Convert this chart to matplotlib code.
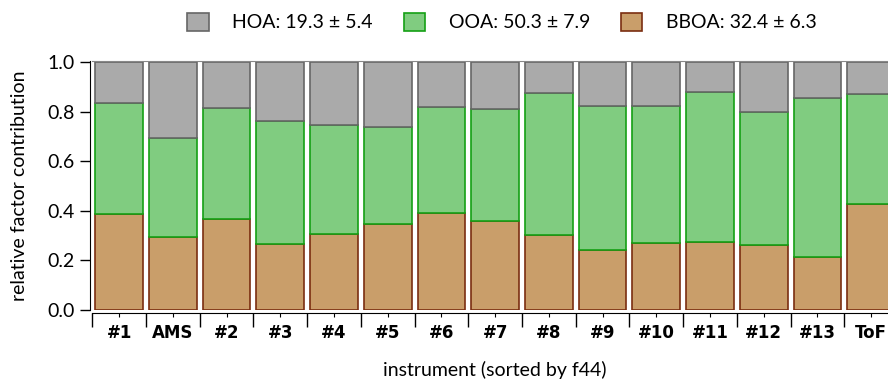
import numpy as np
import matplotlib
matplotlib.use('Agg')
import matplotlib.pyplot as plt
from matplotlib.patches import Patch

plt.rcParams['font.family'] = ['Lato', 'DejaVu Sans']

instruments = ['#1', 'AMS', '#2', '#3', '#4', '#5', '#6', '#7', '#8', '#9',
               '#10', '#11', '#12', '#13', 'ToF']
bboa = np.array([0.387, 0.296, 0.367, 0.265, 0.305, 0.347, 0.392, 0.358,
                 0.304, 0.243, 0.270, 0.274, 0.263, 0.212, 0.429])
ooa_top = np.array([0.837, 0.696, 0.816, 0.763, 0.745, 0.738, 0.821, 0.813,
                    0.875, 0.825, 0.824, 0.879, 0.800, 0.855, 0.871])
ooa = ooa_top - bboa
hoa = 1.0 - ooa_top

legend_labels = ['HOA: 19.3 \u00b1 5.4', 'OOA: 50.3 \u00b1 7.9', 'BBOA: 32.4 \u00b1 6.3']

c_hoa, e_hoa = '#aaaaaa', '#666666'
c_ooa, e_ooa = '#80cc80', '#14a014'
c_bboa, e_bboa = '#c99e6a', '#7a2e10'

fig = plt.figure(figsize=(8.88, 3.8), dpi=100)
ax = fig.add_axes([92.3 / 888, 70 / 380, 805.7 / 888, 249 / 380])

x = np.arange(len(instruments))
w = 0.89
ax.bar(x, bboa, w, color=c_bboa, edgecolor=e_bboa, linewidth=1.2)
ax.bar(x, ooa, w, bottom=bboa, color=c_ooa, edgecolor=e_ooa, linewidth=1.2)
ax.bar(x, hoa, w, bottom=ooa_top, color=c_hoa, edgecolor=e_hoa, linewidth=1.2)

ax.set_xlim(-0.5, len(instruments) - 0.5)
ax.set_ylim(0, 1.005)

# boundaries as major ticks, short minor ticks at bar centres
ax.set_xticks(np.arange(len(instruments) + 1) - 0.5)
ax.set_xticks(x, minor=True)
ax.tick_params(axis='x', which='both', labelbottom=False, direction='out')
ax.tick_params(axis='x', which='major', length=10, width=1)
ax.tick_params(axis='x', which='minor', length=3, width=0.8)
ax.tick_params(axis='y', length=7, width=1, direction='out', labelsize=14)

# bold category names under each bar (only DejaVu has a bold face here)
trans = ax.get_xaxis_transform()
for xi, name in zip(x, instruments):
    ax.text(xi, -0.093, name, transform=trans, ha='center', va='center',
            fontsize=12, fontweight='bold', family='DejaVu Sans',
            clip_on=False)

ax.set_yticks(np.arange(0, 1.01, 0.2))
ax.set_yticklabels([f'{v:.1f}' for v in np.arange(0, 1.01, 0.2)])

ax.spines['right'].set_visible(False)
ax.spines['top'].set_color('#888888')
ax.spines['bottom'].set_position(('outward', 2))
ax.spines['left'].set_position(('outward', 2))

ax.set_ylabel('relative factor contribution', fontsize=14, labelpad=14)
ax.set_xlabel('instrument (sorted by f44)', fontsize=14)
ax.xaxis.set_label_coords(0.5, -0.205)

handles = [Patch(facecolor=c_hoa, edgecolor=e_hoa, linewidth=1.2),
           Patch(facecolor=c_ooa, edgecolor=e_ooa, linewidth=1.2),
           Patch(facecolor=c_bboa, edgecolor=e_bboa, linewidth=1.2)]
fig.legend(handles, legend_labels, loc='center', bbox_to_anchor=(502 / 888, 1 - 22 / 380),
           ncol=3, frameon=False, fontsize=14, handlelength=1.1, handleheight=1.1,
           handletextpad=1.2, columnspacing=1.6)

fig.savefig('out.png', dpi=100)
